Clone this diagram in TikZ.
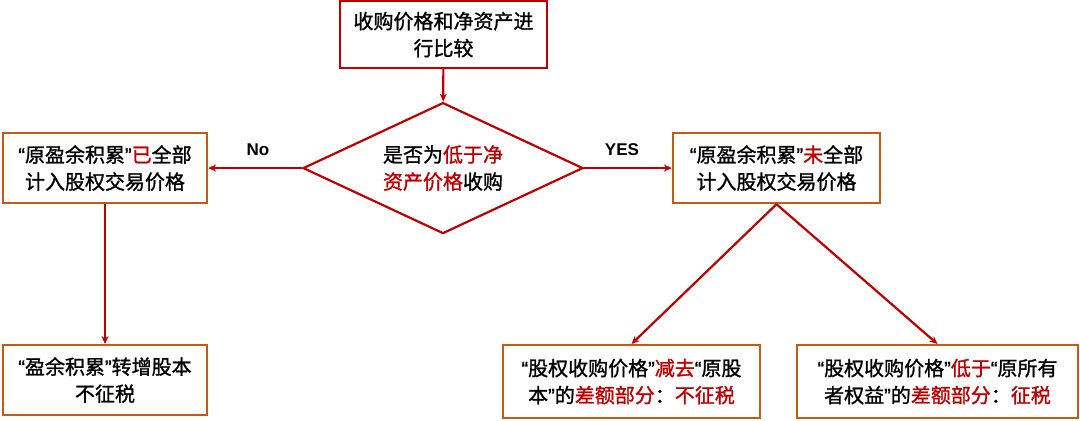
\documentclass[tikz,border=0pt]{standalone}
\usepackage{fontspec}
\setmainfont{Liberation Sans}
\newfontfamily\cjk[UprightFeatures={FakeBold=1.2}]{Noto Sans CJK SC}
\newfontfamily\quotefont[UprightFeatures={FakeBold=1.2}]{Liberation Sans}
\usetikzlibrary{shapes.geometric,arrows.meta}
\definecolor{darkred}{RGB}{192,0,0}
\definecolor{boxorange}{RGB}{197,90,17}
\tikzstyle{line} = [line width=2.2pt,draw=darkred]
\tikzstyle{line>} = [line,-{Stealth[length=8pt,width=7pt]}]
\tikzstyle{box} = [draw,line width=2.2pt,align=center,inner sep=0pt,font=\cjk\fontsize{20}{27}\selectfont]
\tikzstyle{red box} = [box,draw=darkred]
\tikzstyle{orange box} = [box,draw=boxorange]
\tikzstyle{branch label} = [font=\bfseries\fontsize{17}{20}\selectfont]
\newcommand{\hl}[1]{\textcolor{darkred}{#1}}
\newcommand{\oq}{{\quotefont “}}
\newcommand{\cq}{{\quotefont ”}}

\begin{document}
\begin{tikzpicture}[x=1pt,y=-1pt]
        \fill[white] (0,0) rectangle (1080,420);
        % draw top box and decision
        \node[red box,minimum width=207pt,minimum height=67pt] (compare) at (443.5,34.5) {收购价格和净资产进\\行比较};
        \node[box,diamond,draw=darkred,minimum width=280pt,minimum height=131pt,aspect=2.14] (check) at (443,168) {是否为\hl{低于净}\\\hl{资产价格}收购};
        % draw branch boxes
        \node[orange box,minimum width=204pt,minimum height=70pt] (included) at (105,168) {\oq 原盈余积累\cq\hl{已}全部\\计入股权交易价格};
        \node[orange box,minimum width=207pt,minimum height=70pt] (notincluded) at (776.5,168) {\oq 原盈余积累\cq\hl{未}全部\\计入股权交易价格};
        % draw result boxes
        \node[orange box,minimum width=204pt,minimum height=70pt] (notax) at (105,380) {\oq 盈余积累\cq 转增股本\\不征税};
        \node[orange box,minimum width=257pt,minimum height=73pt] (capital) at (631.5,381.5) {\oq 股权收购价格\cq\hl{减去}\oq 原股\\本\cq 的\hl{差额部分}：\hl{不征税}};
        \node[orange box,minimum width=281pt,minimum height=73pt] (equity) at (937.5,381.5) {\oq 股权收购价格\cq\hl{低于}\oq 原所有\\者权益\cq 的\hl{差额部分}：\hl{征税}};
        % draw branch labels
        \node[branch label] (no) at (258,150) {No};
        \node[branch label] (yes) at (622,150) {YES};
        % draw arrows
        \draw[line>] (compare) -- (check);
        \draw[line>] (check.west) -- (included.east);
        \draw[line>] (check.east) -- (notincluded.west);
        \draw[line>] (included) -- (notax);
        \draw[line>] (notincluded.south) -- (capital.north);
        \draw[line>] (notincluded.south) -- (equity.north);
\end{tikzpicture}
\end{document}
